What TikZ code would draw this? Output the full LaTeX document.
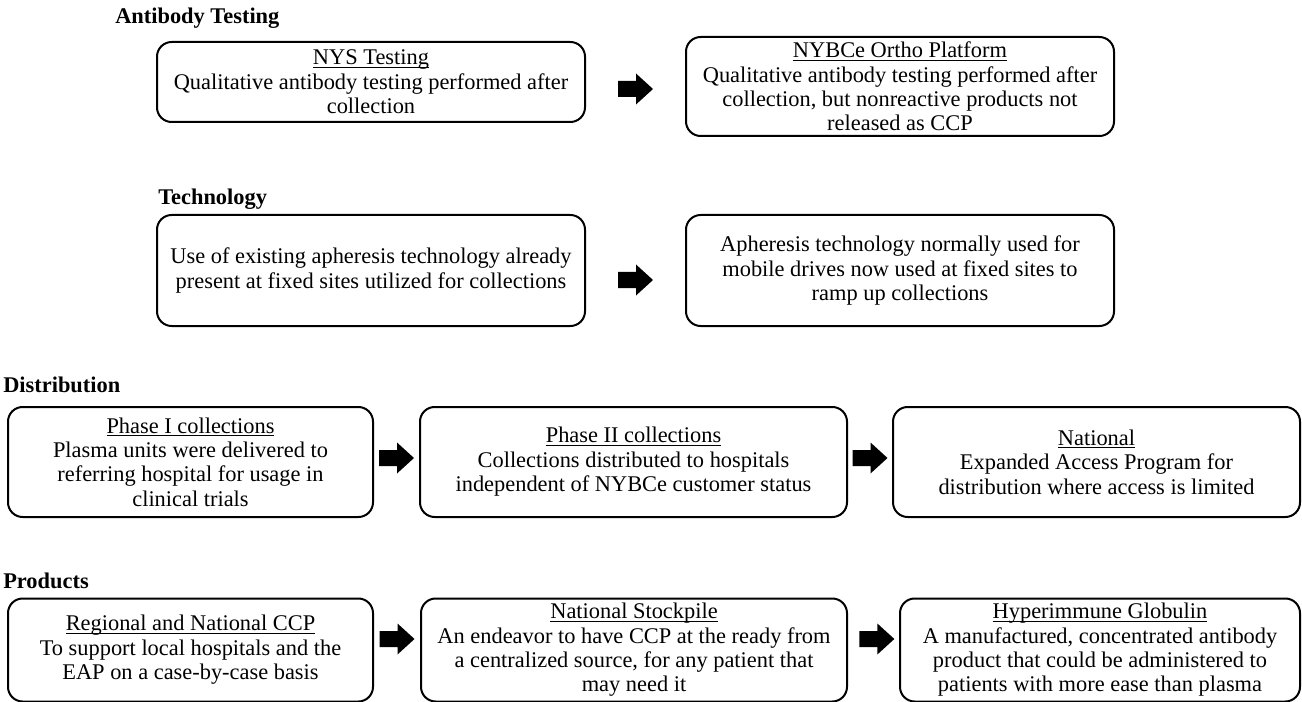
\documentclass[tikz,border=0pt]{standalone}
\usepackage{fontspec}
\setmainfont{Liberation Serif}
\tikzset{
  box/.style={draw=black, line width=1.5pt, rounded corners=11pt, align=center,
    inner sep=2pt, font=\fontsize{16.8}{18.3}\selectfont},
  title/.style={anchor=west, inner sep=0pt, font=\fontsize{16.8}{18}\selectfont\bfseries},
  blockarrow/.style={fill=black, draw=none}
}
\newcommand\undl[1]{\setbox0\hbox{#1}\rlap{\rule[-2.1pt]{\wd0}{0.6pt}}\box0}
\newcommand\blockarr[1]{%
  \fill[blockarrow] (#1) ++(-17.5,-8) -- ++(18,0) -- ++(0,-7.5) -- ++(17,15.5)
     -- ++(-17,15.5) -- ++(0,-7.5) -- ++(-18,0) -- cycle;}
\begin{document}
\begin{tikzpicture}[x=0.75pt,y=-0.75pt]
\useasboundingbox (0,0) rectangle (1302,702);
% titles
\node[title] (tA) at (115,18) {Antibody Testing};
\node[title] (tT) at (158,199) {Technology};
\node[title] (tD) at (3,385) {Distribution};
\node[title] (tP) at (3,581) {Products};
% Antibody testing
\node[box, minimum width=321pt, minimum height=60pt] (a1) at (371,82)
  {\undl{NYS Testing}\\Qualitative antibody testing performed after\\collection};
\node[box, minimum width=321pt, minimum height=74.25pt] (a2) at (900,86.5)
  {\undl{NYBCe Ortho Platform}\\Qualitative antibody testing performed after\\collection, but nonreactive products not\\released as CCP};
% Technology
\node[box, minimum width=321pt, minimum height=83.25pt] (t1) at (371,270.5)
  {Use of existing apheresis technology already\\present at fixed sites utilized for collections};
\node[box, minimum width=321pt, minimum height=83.25pt] (t2) at (900,270.5)
  {Apheresis technology normally used for\\mobile drives now used at fixed sites to\\ramp up collections};
% Distribution
\node[box, minimum width=273.75pt, minimum height=82.5pt] (d1) at (190.5,462)
  {\undl{Phase I collections}\\Plasma units were delivered to\\referring hospital for usage in\\clinical trials};
\node[box, minimum width=320.25pt, minimum height=82.5pt] (d2) at (633.5,462)
  {\undl{Phase II collections}\\Collections distributed to hospitals\\independent of NYBCe customer status};
\node[box, minimum width=305.25pt, minimum height=82.5pt] (d3) at (1096.5,462)
  {\undl{National}\\Expanded Access Program for\\distribution where access is limited};
% Products
\node[box, minimum width=273.75pt, minimum height=77.25pt] (p1) at (190.5,650)
  {\undl{Regional and National CCP}\\To support local hospitals and the\\EAP on a case-by-case basis};
\node[box, minimum width=319.5pt, minimum height=77.25pt] (p2) at (634,650)
  {\undl{National Stockpile}\\An endeavor to have CCP at the ready from\\a centralized source, for any patient that\\may need it};
\node[box, minimum width=300pt, minimum height=77.25pt] (p3) at (1100,650)
  {\undl{Hyperimmune Globulin}\\A manufactured, concentrated antibody\\product that could be administered to\\patients with more ease than plasma};
% arrows between boxes
\path (a1.east) -- (a2.west) coordinate[pos=0.5] (mA);
\coordinate (cA) at (mA |- 0,89);
\blockarr{cA}
\path (t1.east) -- (t2.west) coordinate[pos=0.5] (mT);
\coordinate (cT) at (mT |- 0,280);
\blockarr{cT}
\path (d1.east) -- (d2.west) coordinate[pos=0.5] (mD1);
\coordinate (cD1) at (mD1 |- 0,458);
\blockarr{cD1}
\path (d2.east) -- (d3.west) coordinate[pos=0.5] (mD2);
\coordinate (cD2) at (mD2 |- 0,458);
\blockarr{cD2}
\path (p1.east) -- (p2.west) coordinate[pos=0.5] (mP1);
\coordinate (cP1) at (mP1 |- 0,639);
\blockarr{cP1}
\path (p2.east) -- (p3.west) coordinate[pos=0.5] (mP2);
\coordinate (cP2) at ([xshift=2.5pt]mP2 |- 0,639);
\blockarr{cP2}
\end{tikzpicture}
\end{document}
